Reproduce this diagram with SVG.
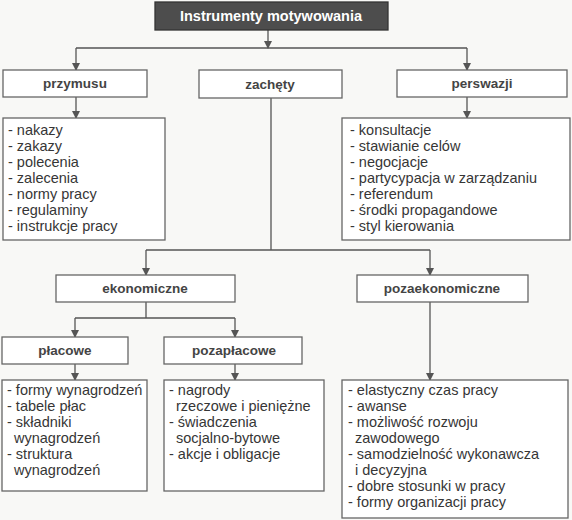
<svg xmlns="http://www.w3.org/2000/svg" width="572" height="520" viewBox="0 0 572 520">
<defs>
<marker id="ah" markerWidth="8" markerHeight="8" refX="7" refY="4" orient="auto" markerUnits="userSpaceOnUse">
<path d="M0,0 L8,4 L0,8 Z" fill="#555"/>
</marker>
<style>
.box{fill:#fff;stroke:#666;stroke-width:1.3}
.hd{font-family:"Liberation Sans",Arial,sans-serif;font-size:13.5px;font-weight:bold;fill:#444;text-anchor:middle}
.li{font-family:"Liberation Sans",Arial,sans-serif;font-size:14.5px;fill:#363636}
.ln{fill:none;stroke:#555;stroke-width:1.3}
.ar{fill:none;stroke:#555;stroke-width:1.3;marker-end:url(#ah)}
</style>
</defs>
<rect width="572" height="520" fill="#f8f8f6"/>
<g id="connectors">
<path class="ar" d="M268,30 V48"/>
<path class="ln" d="M76,48 H467"/>
<path class="ar" d="M76,48 V70"/>
<path class="ar" d="M467,48 V70"/>
<path class="ar" d="M76,97 V118"/>
<path class="ar" d="M467,97 V118"/>
<path class="ln" d="M271,98 V250 M146,250 H430"/>
<path class="ar" d="M146,250 V275"/>
<path class="ar" d="M430,250 V275"/>
<path class="ln" d="M146,302 V318 M75,318 H235"/>
<path class="ar" d="M75,318 V337"/>
<path class="ar" d="M235,318 V337"/>
<path class="ar" d="M75,364 V380"/>
<path class="ar" d="M235,364 V380"/>
<path class="ar" d="M430,302 V380"/>
</g>
<g id="title">
<rect x="155" y="2" width="233" height="28" fill="#4d4d4d" stroke="#333" stroke-width="1.3"/>
<text x="271" y="21" class="hd" style="fill:#fff;font-size:14.5px">Instrumenty motywowania</text>
</g>
<g id="przymusu">
<rect class="box" x="3" y="70" width="144" height="27"/>
<text class="hd" x="75" y="88">przymusu</text>
</g>
<g id="zachety">
<rect class="box" x="199" y="70" width="143" height="28"/>
<text class="hd" x="270" y="89">zachęty</text>
</g>
<g id="perswazji">
<rect class="box" x="397" y="70" width="170" height="27"/>
<text class="hd" x="482" y="88">perswazji</text>
</g>
<g id="przymusu-list">
<rect class="box" x="3" y="118" width="162" height="122"/>
<text class="li"><tspan x="8" y="135">- nakazy</tspan><tspan x="8" y="151">- zakazy</tspan><tspan x="8" y="167">- polecenia</tspan><tspan x="8" y="183">- zalecenia</tspan><tspan x="8" y="199">- normy pracy</tspan><tspan x="8" y="215">- regulaminy</tspan><tspan x="8" y="231">- instrukcje pracy</tspan></text>
</g>
<g id="perswazji-list">
<rect class="box" x="342" y="118" width="228" height="122"/>
<text class="li"><tspan x="350" y="135">- konsultacje</tspan><tspan x="350" y="151">- stawianie celów</tspan><tspan x="350" y="167">- negocjacje</tspan><tspan x="350" y="183">- partycypacja w zarządzaniu</tspan><tspan x="350" y="199">- referendum</tspan><tspan x="350" y="215">- środki propagandowe</tspan><tspan x="350" y="231">- styl kierowania</tspan></text>
</g>
<g id="ekonomiczne">
<rect class="box" x="56" y="275" width="179" height="27"/>
<text class="hd" x="145" y="293">ekonomiczne</text>
</g>
<g id="pozaekonomiczne">
<rect class="box" x="357" y="275" width="171" height="27"/>
<text class="hd" x="442" y="293">pozaekonomiczne</text>
</g>
<g id="placowe">
<rect class="box" x="2" y="337" width="126" height="27"/>
<text class="hd" x="65" y="355">płacowe</text>
</g>
<g id="pozaplacowe">
<rect class="box" x="164" y="337" width="138" height="27"/>
<text class="hd" x="234" y="355">pozapłacowe</text>
</g>
<g id="placowe-list">
<rect class="box" x="2" y="380" width="145" height="111"/>
<text class="li"><tspan x="7" y="395">- formy wynagrodzeń</tspan><tspan x="7" y="411">- tabele płac</tspan><tspan x="7" y="427">- składniki</tspan><tspan x="14" y="443">wynagrodzeń</tspan><tspan x="7" y="459">- struktura</tspan><tspan x="14" y="475">wynagrodzeń</tspan></text>
</g>
<g id="pozaplacowe-list">
<rect class="box" x="164" y="380" width="160" height="111"/>
<text class="li"><tspan x="169" y="395">- nagrody</tspan><tspan x="176" y="411">rzeczowe i pieniężne</tspan><tspan x="169" y="427">- świadczenia</tspan><tspan x="176" y="443">socjalno-bytowe</tspan><tspan x="169" y="459">- akcje i obligacje</tspan></text>
</g>
<g id="pozaekonomiczne-list">
<rect class="box" x="342" y="380" width="226" height="138"/>
<text class="li"><tspan x="348" y="395">- elastyczny czas pracy</tspan><tspan x="348" y="411">- awanse</tspan><tspan x="348" y="427">- możliwość rozwoju</tspan><tspan x="355" y="443">zawodowego</tspan><tspan x="348" y="459">- samodzielność wykonawcza</tspan><tspan x="355" y="475">i decyzyjna</tspan><tspan x="348" y="491">- dobre stosunki w pracy</tspan><tspan x="348" y="507">- formy organizacji pracy</tspan></text>
</g>
</svg>
